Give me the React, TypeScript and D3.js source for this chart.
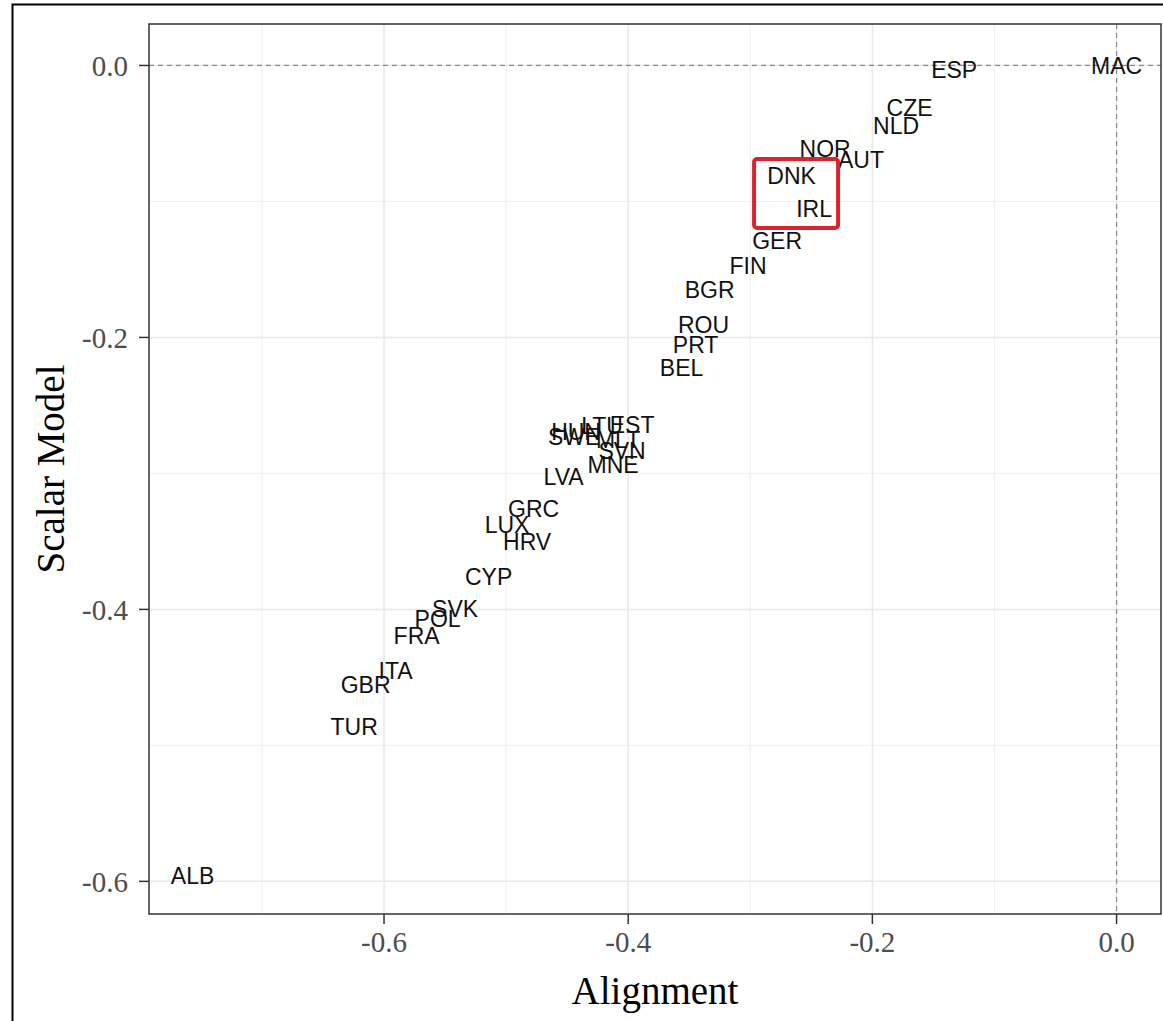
import React from "react";
import * as d3 from "d3";

// country codes and their two scores
const codes = ["MAC", "ESP", "CZE", "NLD", "NOR", "AUT", "DNK", "IRL", "GER", "FIN", "BGR", "ROU", "PRT", "BEL",
  "HUN", "LTU", "EST", "SWE", "MLT", "SVN", "MNE", "LVA", "GRC", "LUX", "HRV", "CYP", "SVK", "POL", "FRA",
  "ITA", "GBR", "TUR", "ALB"];
const alignment = [0.0, -0.133, -0.1695, -0.1806, -0.2387, -0.2093, -0.2662, -0.2477, -0.278, -0.3018, -0.3333,
  -0.3383, -0.3448, -0.3563, -0.4427, -0.4214, -0.3968, -0.4443, -0.4083, -0.405, -0.4124, -0.4529, -0.4775,
  -0.4992, -0.4828, -0.5143, -0.5418, -0.5561, -0.5733, -0.5905, -0.6151, -0.6245, -0.7568];
const scalar = [0.0, -0.003, -0.0313, -0.0445, -0.061, -0.0695, -0.0813, -0.1051, -0.129, -0.1474, -0.165,
  -0.191, -0.2055, -0.2224, -0.2695, -0.265, -0.2643, -0.2732, -0.2754, -0.2835, -0.2937, -0.3022, -0.326,
  -0.3378, -0.35, -0.3757, -0.3996, -0.4066, -0.4195, -0.4452, -0.4551, -0.4864, -0.596];

const xTicks = [-0.6, -0.4, -0.2, 0.0];
const xTickLabels = ["-0.6", "-0.4", "-0.2", "0.0"];
const xMinor = [-0.7, -0.5, -0.3, -0.1];
const yTicks = [0.0, -0.2, -0.4, -0.6];
const yTickLabels = ["0.0", "-0.2", "-0.4", "-0.6"];
const yMinor = [-0.1, -0.3, -0.5];

// highlighted region (DNK / IRL)
const boxX = [-0.2969, -0.2281];
const boxY = [-0.0688, -0.1195];

const W = 1163, H = 1021;
const panel = { left: 149, right: 1161, top: 24, bottom: 914 };

export default function App() {
  const x = d3.scaleLinear().domain([-0.7925, 0.0364]).range([panel.left, panel.right]);
  const y = d3.scaleLinear().domain([-0.624, 0.0305]).range([panel.bottom, panel.top]);
  const serif = "'Liberation Serif', 'Times New Roman', serif";
  const sans = "'Liberation Sans', Arial, sans-serif";

  return (
    <svg width={W} height={H} style={{ position: "absolute", left: 0, top: 0, background: "#fff" }}>
      {/* outer frame */}
      <rect x={12.5} y={4.5} width={1300} height={1200} fill="none" stroke="#000" strokeWidth={2} />

      {/* grid */}
      <g>
        {xMinor.map((v) => (
          <line key={"xm" + v} x1={x(v)} x2={x(v)} y1={panel.top} y2={panel.bottom} stroke="#f0f0f0" strokeWidth={1} />
        ))}
        {yMinor.map((v) => (
          <line key={"ym" + v} x1={panel.left} x2={panel.right} y1={y(v)} y2={y(v)} stroke="#f0f0f0" strokeWidth={1} />
        ))}
        {xTicks.map((v) => (
          <line key={"xg" + v} x1={x(v)} x2={x(v)} y1={panel.top} y2={panel.bottom} stroke="#e8e8e8" strokeWidth={1.5} />
        ))}
        {yTicks.map((v) => (
          <line key={"yg" + v} x1={panel.left} x2={panel.right} y1={y(v)} y2={y(v)} stroke="#e8e8e8" strokeWidth={1.5} />
        ))}
      </g>

      {/* reference lines at zero */}
      <line x1={panel.left} x2={panel.right} y1={y(0)} y2={y(0)} stroke="#8c8c8c" strokeWidth={1.2} strokeDasharray="5,4" />
      <line x1={x(0)} x2={x(0)} y1={panel.top} y2={panel.bottom} stroke="#8c8c8c" strokeWidth={1.2} strokeDasharray="5,4" />

      {/* labels */}
      <g fontFamily={sans} fontSize={23} fill="#111" textAnchor="middle">
        {codes.map((c, i) => (
          <text key={c} x={x(alignment[i])} y={y(scalar[i])} dy="0.36em">{c}</text>
        ))}
      </g>

      {/* highlight box */}
      <rect x={x(boxX[0])} y={y(boxY[0])} width={x(boxX[1]) - x(boxX[0])} height={y(boxY[1]) - y(boxY[0])}
        rx={3} fill="none" stroke="#d9232d" strokeWidth={4} />

      {/* panel border */}
      <rect x={panel.left} y={panel.top} width={panel.right - panel.left} height={panel.bottom - panel.top}
        fill="none" stroke="#333" strokeWidth={1.5} />

      {/* x axis */}
      <g fontFamily={serif} fontSize={29} fill="#4d4d4d" textAnchor="middle">
        {xTicks.map((v, i) => (
          <g key={"xt" + v}>
            <line x1={x(v)} x2={x(v)} y1={panel.bottom} y2={panel.bottom + 10} stroke="#333" strokeWidth={1.5} />
            <text x={x(v)} y={panel.bottom + 38}>{xTickLabels[i]}</text>
          </g>
        ))}
      </g>
      {/* y axis */}
      <g fontFamily={serif} fontSize={29} fill="#4d4d4d" textAnchor="end">
        {yTicks.map((v, i) => (
          <g key={"yt" + v}>
            <line x1={panel.left - 10} x2={panel.left} y1={y(v)} y2={y(v)} stroke="#333" strokeWidth={1.5} />
            <text x={panel.left - 21} y={y(v)} dy="0.35em">{yTickLabels[i]}</text>
          </g>
        ))}
      </g>

      <text x={(panel.left + panel.right) / 2} y={1004} fontFamily={serif} fontSize={39} fill="#000" textAnchor="middle">Alignment</text>
      <text transform={`translate(64,${(panel.top + panel.bottom) / 2}) rotate(-90)`} fontFamily={serif} fontSize={39}
        fill="#000" textAnchor="middle">Scalar Model</text>
    </svg>
  );
}
